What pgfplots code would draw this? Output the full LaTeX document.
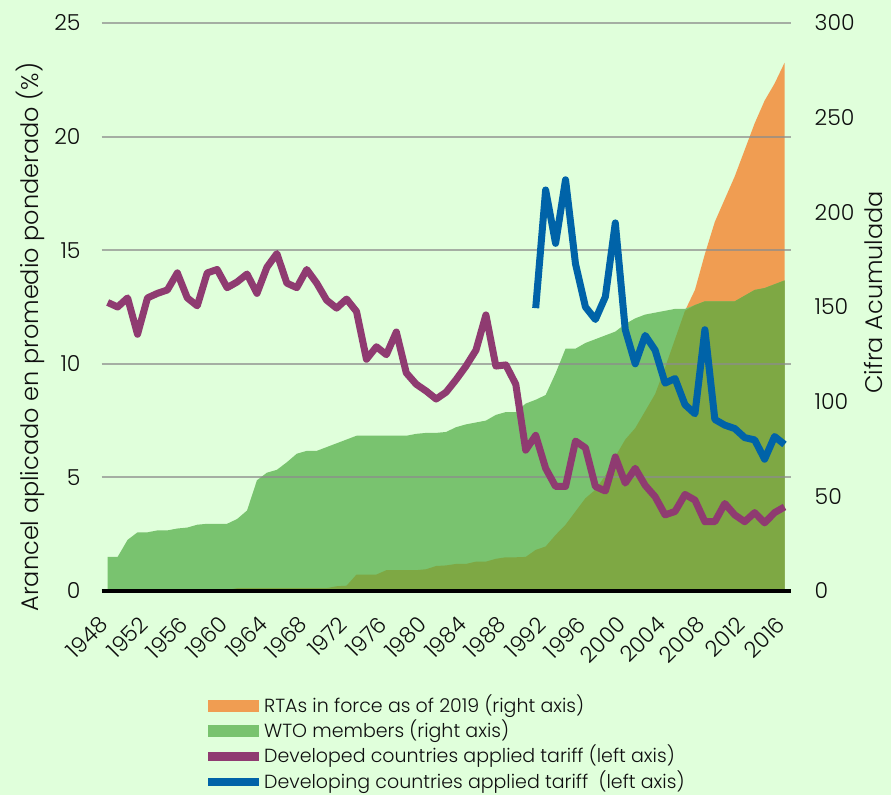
\documentclass[border=0pt]{standalone}
\usepackage{pgfplots}
\pgfplotsset{compat=1.18}
\usepackage{fontspec}
\setmainfont{Poppins}[UprightFont={* Light}]
\definecolor{bgc}{RGB}{224,255,219}
\definecolor{orangec}{RGB}{240,157,82}
\definecolor{greenc}{RGB}{121,195,111}
\definecolor{olivec}{RGB}{126,168,68}
\definecolor{purplec}{RGB}{143,59,113}
\definecolor{bluec}{RGB}{0,99,168}
\definecolor{gridc}{RGB}{140,140,140}
\definecolor{txt}{RGB}{15,15,15}

\pgfplotstableread{
year wto rta both
1948 18 0 0
1949 18 0 0
1950 27 0 0
1951 31 0 0
1952 31 0 0
1953 32 0 0
1954 32 0 0
1955 33 0 0
1956 33.5 0 0
1957 35 0 0
1958 35.5 0 0
1959 35.5 0 0
1960 35.5 0.5 0.5
1961 38 1.5 1.5
1962 42.5 1.5 1.5
1963 58.5 1.5 1.5
1964 62.5 1.5 1.5
1965 64 1.5 1.5
1966 68 1.5 1.5
1967 72.5 1.5 1.5
1968 74 1.5 1.5
1969 74 1.5 1.5
1970 76 1.5 1.5
1971 78 2.5 2.5
1972 80 2.8 2.8
1973 82 8.7 8.7
1974 82 8.7 8.7
1975 82 8.7 8.7
1976 82 11 11
1977 82 11 11
1978 82 11 11
1979 83 11 11
1980 83.5 11.5 11.5
1981 83.5 13.2 13.2
1982 84 13.5 13.5
1983 86.5 14.3 14.3
1984 88 14.3 14.3
1985 89 15.5 15.5
1986 90 15.5 15.5
1987 93 17 17
1988 94.5 17.8 17.8
1989 94.5 17.8 17.8
1990 99 18 18
1991 101 21.7 21.7
1992 103.5 23.5 23.5
1993 115 29.6 29.6
1994 128 35 35
1995 128 42 42
1996 131 49 49
1997 133 53.5 53.5
1998 135 61 61
1999 137 71 71
2000 141 80 80
2001 144 86 86
2002 146 95 95
2003 147 104 104
2004 148 118 118
2005 149 133 133
2006 149 148 148
2007 151 159 151
2008 153 178 153
2009 153 195 153
2010 153 207 153
2011 153 219 153
2012 156 233 156
2013 159 247 159
2014 160 259 160
2015 162 268 162
2016 164 279 164
}\areas

\pgfplotstableread{
year val
1948 12.7
1949 12.5
1950 12.9
1951 11.3
1952 12.9
1953 13.1
1954 13.25
1955 14.0
1956 12.9
1957 12.55
1958 14.0
1959 14.15
1960 13.35
1961 13.6
1962 13.95
1963 13.1
1964 14.25
1965 14.85
1966 13.55
1967 13.35
1968 14.15
1969 13.55
1970 12.8
1971 12.45
1972 12.85
1973 12.3
1974 10.2
1975 10.75
1976 10.4
1977 11.4
1978 9.6
1979 9.1
1980 8.8
1981 8.45
1982 8.75
1983 9.3
1984 9.9
1985 10.6
1986 12.15
1987 9.9
1988 9.95
1989 9.1
1990 6.2
1991 6.85
1992 5.4
1993 4.6
1994 4.6
1995 6.6
1996 6.3
1997 4.6
1998 4.4
1999 5.9
2000 4.75
2001 5.4
2002 4.65
2003 4.15
2004 3.35
2005 3.5
2006 4.25
2007 4.0
2008 3.05
2009 3.05
2010 3.85
2011 3.35
2012 3.05
2013 3.45
2014 3.0
2015 3.45
2016 3.7
}\developed

\pgfplotstableread{
year val
1991 12.45
1992 17.65
1993 15.3
1994 18.1
1995 14.4
1996 12.5
1997 11.95
1998 12.95
1999 16.2
2000 11.5
2001 10.0
2002 11.25
2003 10.6
2004 9.15
2005 9.35
2006 8.2
2007 7.8
2008 11.5
2009 7.55
2010 7.3
2011 7.15
2012 6.75
2013 6.65
2014 5.8
2015 6.8
2016 6.45
}\developing

\newcommand{\tickfont}{\fontsize{22bp}{26bp}\selectfont}
\newcommand{\labfont}{\fontsize{24bp}{28bp}\selectfont}
\newcommand{\legfont}{\fontsize{19bp}{22bp}\selectfont}

\begin{document}
\begin{tikzpicture}
\useasboundingbox (0bp,0bp) rectangle (891bp,795bp);
\fill[bgc] (0bp,0bp) rectangle (891bp,795bp);

% right axis: areas
\begin{axis}[
  at={(101.7bp,204bp)}, anchor=south west,
  scale only axis, width=688.8bp, height=568bp,
  xmin=1947.4, xmax=2016.6, ymin=0, ymax=300,
  hide x axis,
  axis y line*=right,
  y axis line style={draw=none},
  ytick={0,50,...,300},
  major tick length=0pt,
  /pgf/number format/assume math mode=true,
  /pgf/number format/1000 sep={},
  yticklabel style={font=\tickfont, text=txt, anchor=west, inner sep=0pt, xshift=24bp},
  ylabel={Cifra Acumulada},
  every axis y label/.style={at={(axis description cs:1.120,0.526)}, rotate=90, anchor=center, inner sep=0pt, font=\labfont, text=txt},
]
\addplot[fill=orangec, draw=none] table[x=year, y=rta]{\areas} \closedcycle;
\addplot[fill=greenc, draw=none] table[x=year, y=wto]{\areas} \closedcycle;
\addplot[fill=olivec, draw=none] table[x=year, y=both]{\areas} \closedcycle;
\end{axis}

% left axis: lines
\begin{axis}[
  at={(101.7bp,204bp)}, anchor=south west,
  scale only axis, width=688.8bp, height=568bp,
  xmin=1947.4, xmax=2016.6, ymin=0, ymax=25,
  axis x line*=bottom,
  axis y line*=left,
  y axis line style={draw=none},
  x axis line style={draw=black, line width=3.5bp, -},
  xtick={1948,1952,...,2016},
  ytick={0,5,...,25},
  major tick length=0pt,
  ymajorgrids,
  grid style={draw=gridc, line width=2bp, opacity=0.7},
  /pgf/number format/assume math mode=true,
  /pgf/number format/1000 sep={},
  yticklabel style={font=\tickfont, text=txt, anchor=east, inner sep=0pt, xshift=-21bp},
  xticklabel style={font=\tickfont, text=txt, inner sep=0pt, yshift=-29.6bp, xshift=-3.6bp, rotate=45, anchor=east},
  ylabel={Arancel aplicado en promedio ponderado (\%)},
  every axis y label/.style={at={(axis description cs:-0.1041,0.447)}, rotate=90, anchor=center, inner sep=0pt, font=\labfont, text=txt},
  legend cell align=left,
  legend style={at={(axis description cs:0.1543,-0.1795)}, anchor=north west,
    draw=none, fill=none, font=\legfont, text=txt, inner sep=0pt, row sep=0pt,
    /tikz/every odd column/.append style={column sep=5bp},
    nodes={inner sep=0pt, text height=19.2bp, text depth=6.1bp}},
]
\addlegendimage{legend image code/.code={\fill[orangec, draw=none] (0bp,-6bp) rectangle (51bp,6bp);}}
\addlegendentry{RTAs in force as of 2019 (right axis)}
\addlegendimage{legend image code/.code={\fill[greenc, draw=none] (0bp,-6bp) rectangle (51bp,6bp);}}
\addlegendentry{WTO members (right axis)}
\addplot[draw=purplec, line width=7bp, line join=round,
  legend image code/.code={\fill[purplec, draw=none] (0bp,-4.2bp) rectangle (51bp,4.2bp);}]
  table[x=year, y=val]{\developed};
\addlegendentry{Developed countries applied tariff (left axis)}
\addplot[draw=bluec, line width=7bp, line join=round,
  legend image code/.code={\fill[bluec, draw=none] (0bp,-4.2bp) rectangle (51bp,4.2bp);}]
  table[x=year, y=val]{\developing};
\addlegendentry{Developing countries applied tariff\ \ (left axis)}
\end{axis}
\end{tikzpicture}
\end{document}
